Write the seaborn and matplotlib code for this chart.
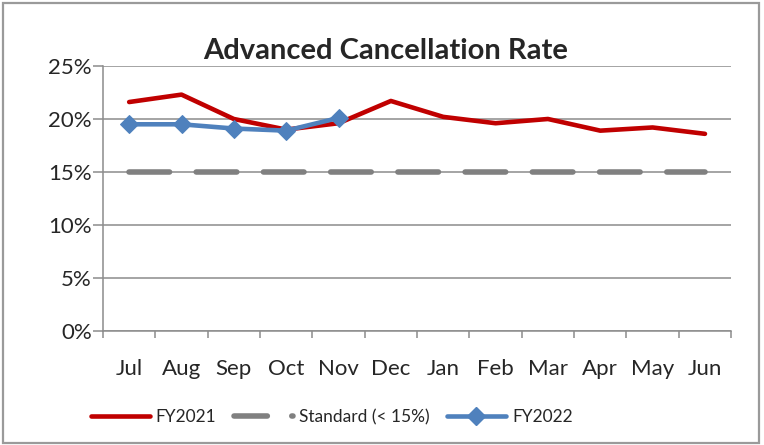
import matplotlib
matplotlib.use('Agg')
import matplotlib.pyplot as plt
from matplotlib.lines import Line2D
from matplotlib.patches import Rectangle
from matplotlib.ticker import PercentFormatter, FixedLocator
import seaborn as sns
import pandas as pd

# 数据
months = ['Jul', 'Aug', 'Sep', 'Oct', 'Nov', 'Dec', 'Jan', 'Feb', 'Mar', 'Apr', 'May', 'Jun']
fy2021 = [21.6, 22.3, 20.0, 19.0, 19.6, 21.7, 20.2, 19.6, 20.0, 18.9, 19.2, 18.6]
standard = [15.0] * 12
fy2022 = [19.5, 19.5, 19.1, 18.9, 20.1]
y_ticks = [0, 5, 10, 15, 20, 25]

df21 = pd.DataFrame({'x': range(len(months)), 'rate': fy2021})
dfstd = pd.DataFrame({'x': range(len(months)), 'rate': standard})
df22 = pd.DataFrame({'x': range(len(fy2022)), 'rate': fy2022})

sns.set_style('white')
plt.rcParams['font.family'] = ['Lato', 'DejaVu Sans']

RED = '#C00000'
GRAY = '#808080'
BLUE = '#4F81BD'
GRID = '#8C8C8C'

fig = plt.figure(figsize=(7.64, 4.45), dpi=100)
ax = fig.add_axes([0.1348, 0.2562, 0.8222, 0.5955])

sns.lineplot(data=df21, x='x', y='rate', ax=ax, color=RED, linewidth=3.3,
             solid_capstyle='round', zorder=3)
sns.lineplot(data=dfstd, x='x', y='rate', ax=ax, color=GRAY, linewidth=4.0,
             dashes=False, zorder=2)
ax.lines[-1].set_linestyle((0, (7.3, 4.8)))
ax.lines[-1].set_dash_capstyle('round')
sns.lineplot(data=df22, x='x', y='rate', ax=ax, color=BLUE, linewidth=3.3,
             marker='D', markersize=9, markeredgecolor=BLUE, zorder=4)

# 坐标轴
ax.set_xlim(-0.5, len(months) - 0.5)
ax.set_ylim(0, 25)
ax.set_yticks(y_ticks)
ax.yaxis.set_major_formatter(PercentFormatter(decimals=0))
ax.set_xticks(range(len(months)))
ax.set_xticklabels(months)
ax.xaxis.set_minor_locator(FixedLocator([i - 0.5 for i in range(len(months) + 1)]))
ax.set_xlabel('')
ax.set_ylabel('')

ax.grid(True, axis='y', color=GRID, linewidth=1.1)
ax.set_axisbelow(True)
for s in ['top', 'right']:
    ax.spines[s].set_visible(False)
for s in ['left', 'bottom']:
    ax.spines[s].set_color(GRID)
    ax.spines[s].set_linewidth(1.1)

ax.tick_params(axis='y', which='major', length=7, width=1.1, color=GRID, pad=1,
               labelsize=16, left=True)
ax.tick_params(axis='x', which='major', length=0, pad=20, labelsize=16)
ax.tick_params(axis='x', which='minor', length=5, width=1.1, color=GRID, bottom=True)

# 标题居中于整张图
ax.set_title('Advanced Cancellation Rate', fontsize=21, fontweight='bold', pad=5,
             x=0.45)

# 图例
handles = [
    Line2D([], [], color=RED, linewidth=3.3),
    Line2D([], [], color=GRAY, linewidth=4.0, linestyle=(0, (6.0, 4.4)),
           dash_capstyle='round'),
    Line2D([], [], color=BLUE, linewidth=3.3, marker='D', markersize=9),
]
fig.legend(handles, ['FY2021', 'Standard (< 15%)', 'FY2022'], loc='center',
           bbox_to_anchor=(0.434, 0.062), ncol=3, frameon=False, fontsize=12.5,
           handlelength=3.4, handletextpad=0.35, columnspacing=1.0)

# 外框
fig.add_artist(Rectangle((0.004, 0.004), 0.99, 0.99, transform=fig.transFigure,
                         fill=False, edgecolor='#9A9A9A', linewidth=1.6))

plt.savefig('out.png', dpi=100)
plt.close()
